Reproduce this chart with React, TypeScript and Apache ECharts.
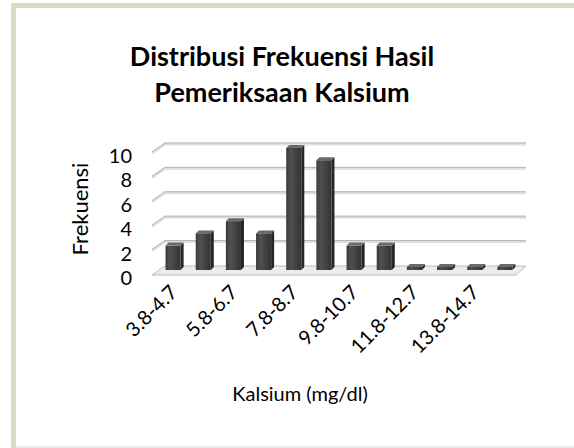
import React, { useEffect, useRef } from "react";
import * as echarts from "echarts";

const categories = [
  "3.8-4.7", "4.8-5.7", "5.8-6.7", "6.8-7.7", "7.8-8.7", "8.8-9.7",
  "9.8-10.7", "10.8-11.7", "11.8-12.7", "12.8-13.7", "13.8-14.7", "14.8-15.7",
];
const frequencies = [2, 3, 4, 3, 10, 9, 2, 2, 0, 0, 0, 0];
const yTicks = [0, 2, 4, 6, 8, 10];

const titleText = "Distribusi Frekuensi Hasil\nPemeriksaan Kalsium";
const yName = "Frekuensi";
const xName = "Kalsium (mg/dl)";

const FONT = "Lato, 'Open Sans', sans-serif";

export default function App() {
  const ref = useRef<HTMLDivElement>(null);

  useEffect(() => {
    if (!ref.current) return;
    const chart = echarts.init(ref.current, null, { renderer: "svg" });
    const last = categories.length - 1;

    const gridRender = (params: any, api: any) => {
      const v = api.value(1);
      const bw = api.size([1, 0])[0];
      const [c0, y] = api.coord([0, v]);
      const [cN] = api.coord([last, v]);
      const xL = c0 - bw / 2;
      const xR = cN + bw / 2;
      const children: any[] = [];
      if (v === 0) {
        children.push({
          type: "polygon",
          shape: { points: [[xL - 6, y + 5], [xL + 7, y - 4], [xR + 6, y - 4], [xR - 4, y + 5]] },
          style: { fill: "#ececec", stroke: "#bcbcbc", lineWidth: 1 },
        });
      } else {
        children.push({
          type: "polyline",
          shape: { points: [[xL - 6, y + 5], [xL + 7, y - 4], [xR + 6, y - 4]] },
          style: { stroke: "#e0e0e0", lineWidth: 3, fill: null },
        });
        children.push({
          type: "polyline",
          shape: { points: [[xL - 6, y + 4], [xL + 7, y - 5], [xR + 6, y - 5]] },
          style: { stroke: "#b4b4b4", lineWidth: 1, fill: null },
        });
      }
      return { type: "group", children };
    };

    const barRender = (params: any, api: any) => {
      const idx = api.value(0);
      const v = api.value(1);
      const [cx, yTop0] = api.coord([idx, v]);
      const [, yBase] = api.coord([idx, 0]);
      const bw = api.size([1, 0])[0] * 0.5;
      const top = Math.min(yTop0, yBase - 3);
      const d = 3;
      const x0 = cx - bw / 2;
      const x1 = cx + bw / 2;
      return {
        type: "group",
        children: [
          {
            type: "polygon",
            shape: { points: [[x1, top], [x1 + d, top - d], [x1 + d, yBase - d], [x1, yBase]] },
            style: { fill: "#262626" },
          },
          {
            type: "polygon",
            shape: { points: [[x0, top], [x0 + d, top - d], [x1 + d, top - d], [x1, top]] },
            style: { fill: "#6a6a6a" },
          },
          {
            type: "rect",
            shape: { x: x0, y: top, width: bw, height: yBase - top },
            style: {
              fill: new echarts.graphic.LinearGradient(0, 0, 1, 0, [
                { offset: 0, color: "#3a3a3a" },
                { offset: 0.3, color: "#505050" },
                { offset: 1, color: "#333333" },
              ]),
            },
          },
        ],
      };
    };

    chart.setOption({
      animation: false,
      backgroundColor: "#ffffff",
      title: {
        text: titleText,
        left: 277,
        textAlign: "center",
        top: 32,
        textStyle: { fontFamily: FONT, fontSize: 27, fontWeight: "bold", color: "#000", lineHeight: 36 },
      },
      grid: { left: 158, right: 54, top: 148, bottom: 178, containLabel: false },
      xAxis: {
        type: "category",
        data: categories,
        axisLine: { show: false },
        axisTick: { show: false },
        axisLabel: {
          interval: 1,
          rotate: 45,
          margin: 18,
          fontFamily: FONT,
          fontSize: 20,
          color: "#000",
        },
      },
      yAxis: {
        type: "value",
        min: 0,
        max: 10,
        interval: 2,
        name: yName,
        nameLocation: "middle",
        nameGap: 68,
        nameTextStyle: { fontFamily: FONT, fontSize: 22, color: "#000" },
        axisLine: { show: false },
        axisTick: { show: false },
        splitLine: { show: false },
        axisLabel: {
          margin: 26,
          fontFamily: FONT,
          fontSize: 20,
          color: "#000",
          verticalAlign: "top",
          lineHeight: 14,
        },
      },
      graphic: [
        { type: "rect", shape: { x: 11, y: 3, width: 5, height: 445 }, style: { fill: "#ddd9c3" } },
        { type: "rect", shape: { x: 11, y: 3, width: 563, height: 5 }, style: { fill: "#ddd9c3" } },
        { type: "rect", shape: { x: 16, y: 446, width: 558, height: 2 }, style: { fill: "#ebe9de" } },
        {
          type: "text",
          x: 300,
          y: 393,
          style: {
            text: xName,
            fontFamily: FONT,
            fontSize: 20,
            fill: "#000",
            textAlign: "center",
            textVerticalAlign: "middle",
          },
        },
      ],
      series: [
        {
          type: "custom",
          renderItem: gridRender,
          data: yTicks.map((v) => [0, v]),
          z: 1,
          silent: true,
        },
        {
          type: "custom",
          renderItem: barRender,
          data: frequencies.map((v, i) => [i, v]),
          z: 2,
        },
      ],
    });

    return () => chart.dispose();
  }, []);

  return (
    <div
      ref={ref}
      style={{ position: "fixed", left: 0, top: 0, width: 574, height: 448 }}
    />
  );
}
